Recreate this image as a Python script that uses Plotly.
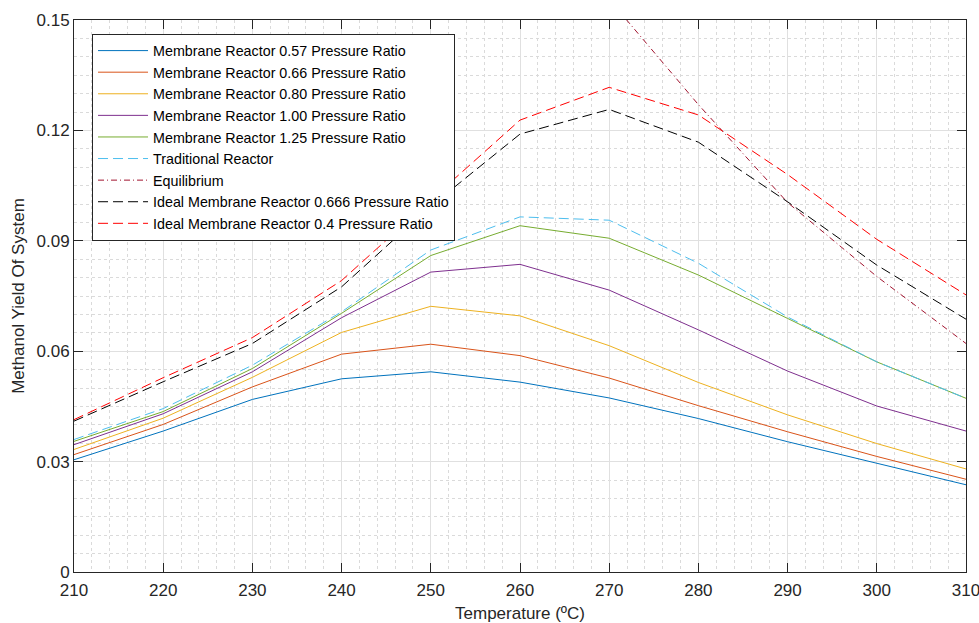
import plotly.graph_objects as go

# Reactor temperature (deg C)
temperature = [210, 220, 230, 240, 250, 260, 270, 280, 290, 300, 310]

# Methanol yield of system for each reactor configuration
mr_057 = [0.0305, 0.0383, 0.0469, 0.0525, 0.0544, 0.0516, 0.0473, 0.0417, 0.0354, 0.0295, 0.0237]
mr_066 = [0.0319, 0.0401, 0.0503, 0.0592, 0.0619, 0.0588, 0.0527, 0.0452, 0.0381, 0.0314, 0.0252]
mr_080 = [0.0333, 0.0418, 0.0529, 0.0651, 0.0722, 0.0696, 0.0615, 0.0515, 0.0427, 0.0349, 0.0280]
mr_100 = [0.0346, 0.0430, 0.0544, 0.0691, 0.0815, 0.0836, 0.0766, 0.0658, 0.0546, 0.0451, 0.0383]
mr_125 = [0.0355, 0.0436, 0.0553, 0.0703, 0.0860, 0.0941, 0.0907, 0.0807, 0.0689, 0.0571, 0.0472]
traditional = [0.0360, 0.0444, 0.0562, 0.0707, 0.0875, 0.0965, 0.0956, 0.0839, 0.0693, 0.0571, 0.0472]
equilibrium = [None, None, None, None, None, None, 0.1556, 0.1270, 0.1004, 0.0803, 0.0621]
ideal_0666 = [0.0410, 0.0517, 0.0621, 0.0775, 0.0994, 0.1190, 0.1257, 0.1168, 0.1006, 0.0834, 0.0687]
ideal_04 = [0.0414, 0.0528, 0.0637, 0.0792, 0.1011, 0.1228, 0.1317, 0.1242, 0.1080, 0.0904, 0.0753]

x_ticks = [210, 220, 230, 240, 250, 260, 270, 280, 290, 300, 310]
y_ticks = [0, 0.03, 0.06, 0.09, 0.12, 0.15]
y_tick_labels = ["0", "0.03", "0.06", "0.09", "0.12", "0.15"]

series = [
    ("Membrane Reactor 0.57 Pressure Ratio", mr_057, "#0072BD", "solid"),
    ("Membrane Reactor 0.66 Pressure Ratio", mr_066, "#D95319", "solid"),
    ("Membrane Reactor 0.80 Pressure Ratio", mr_080, "#EDB120", "solid"),
    ("Membrane Reactor 1.00 Pressure Ratio", mr_100, "#7E2F8E", "solid"),
    ("Membrane Reactor 1.25 Pressure Ratio", mr_125, "#77AC30", "solid"),
    ("Traditional Reactor", traditional, "#4DBEEE", "10px,5px"),
    ("Equilibrium", equilibrium, "#A2142F", "6px,3px,1px,3px"),
    ("Ideal Membrane Reactor 0.666 Pressure Ratio", ideal_0666, "#000000", "10px,5px"),
    ("Ideal Membrane Reactor 0.4 Pressure Ratio", ideal_04, "#FF0000", "10px,5px"),
]

fig = go.Figure()
for name, values, color, dash in series:
    fig.add_trace(go.Scatter(
        x=temperature, y=values, name=name, mode="lines",
        line=dict(color=color, width=1, dash=dash),
        connectgaps=False,
    ))

axis_color = "#262626"
font_family = "Liberation Sans, Arial, sans-serif"

fig.update_layout(
    width=979, height=623,
    margin=dict(l=74, r=13, t=20, b=51),
    paper_bgcolor="white", plot_bgcolor="white",
    font=dict(family=font_family, size=16, color=axis_color),
    showlegend=True,
    legend=dict(
        x=0.0202, y=0.975, xanchor="left", yanchor="top",
        bgcolor="white", bordercolor=axis_color, borderwidth=1,
        font=dict(family=font_family, size=14.3, color="#000000"),
        itemwidth=50, tracegroupgap=0,
    ),
    xaxis=dict(
        range=[210, 310], tickvals=x_ticks, automargin=False,
        ticklabeloverflow="allow",
        showline=True, linecolor=axis_color, linewidth=1, mirror="ticks",
        ticks="inside", ticklen=9, tickcolor=axis_color,
        ticklabelstandoff=3,
        showgrid=True, gridcolor="#e0e0e0", gridwidth=1,
        minor=dict(dtick=2, showgrid=True, gridcolor="#dadada", griddash="dot", gridwidth=1, ticks=""),
        zeroline=False,
        title=dict(text="Temperature (ºC)", font=dict(size=17), standoff=7),
        tickfont=dict(size=17),
    ),
    yaxis=dict(
        range=[0, 0.15], tickvals=y_ticks, ticktext=y_tick_labels, automargin=False,
        ticklabeloverflow="allow",
        showline=True, linecolor=axis_color, linewidth=1, mirror="ticks",
        ticks="inside", ticklen=9, tickcolor=axis_color,
        showgrid=True, gridcolor="#e0e0e0", gridwidth=1,
        minor=dict(dtick=0.005, showgrid=True, gridcolor="#dadada", griddash="dot", gridwidth=1, ticks=""),
        zeroline=False,
        tickfont=dict(size=17),
    ),
    annotations=[dict(
        text="Methanol Yield Of System", textangle=-90,
        xref="paper", yref="paper", x=-0.063, y=0.5,
        xanchor="center", yanchor="middle", showarrow=False,
        font=dict(family=font_family, size=17, color=axis_color),
    )],
)

fig.write_html("out.html")
